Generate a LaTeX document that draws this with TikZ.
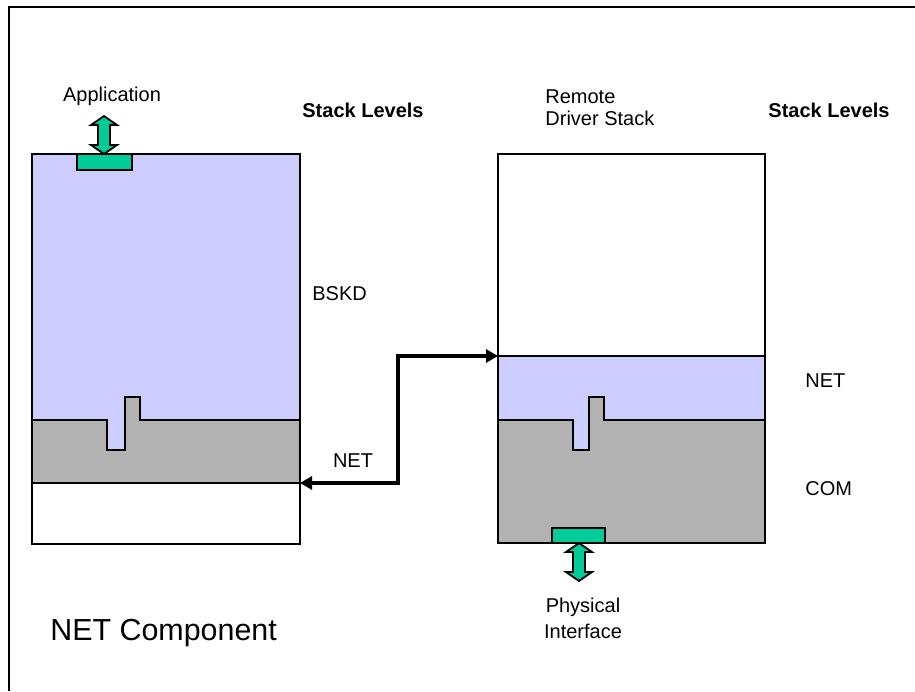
\documentclass[tikz,border=0pt]{standalone}
\usepackage{fontspec}
\setmainfont{Liberation Sans}
\usetikzlibrary{arrows.meta}
\definecolor{netblue}{HTML}{CCCCFF}
\definecolor{comgray}{HTML}{B2B2B2}
\definecolor{ifgreen}{HTML}{00CC99}
\tikzset{
  lbl/.style     ={inner sep=0pt, font=\fontsize{10}{12}\selectfont},
  lvl/.style     ={lbl, font=\fontsize{10}{12}\selectfont\bfseries},
  layer/.style   ={draw=black, line width=0.9pt},
  ifaceblk/.style={draw=black, fill=ifgreen, line width=0.9pt},
  netlink/.style ={{Triangle[length=6pt,width=6.5pt]}-{Triangle[length=6pt,width=6.5pt]}, line width=2pt},
  updown/.pic    ={\draw[ifaceblk] (0,0) -- (13,9) -- (6,9) -- (6,29) -- (13,29) -- (0,38)
                     -- (-13,29) -- (-6,29) -- (-6,9) -- (-13,9) -- cycle;},
}
\begin{document}
\begin{tikzpicture}[x=0.5pt, y=-0.5pt]
  \useasboundingbox (0,0) rectangle (915,691);
  % frame
  \draw[line width=1.4pt] (9,691) -- (9,7) -- (915,7);

  % left stack
  \fill[netblue] (32,154) rectangle (300,450);
  \draw[layer, fill=comgray] (32,420) -- (107,420) -- (107,450) -- (125,450) -- (125,397)
        -- (140,397) -- (140,420) -- (300,420) -- (300,483) -- (32,483) -- cycle;
  \draw[layer] (32,154) rectangle (300,544);
  \draw[ifaceblk] (77,154) rectangle (132,170);
  \pic at (104,116) {updown};

  % right stack
  \fill[netblue] (498,356) rectangle (765,450);
  \draw[layer, fill=comgray] (498,420) -- (573,420) -- (573,450) -- (589,450) -- (589,397)
        -- (604,397) -- (604,420) -- (765,420) -- (765,543) -- (498,543) -- cycle;
  \draw[layer] (498,154) rectangle (765,543);
  \draw[layer] (498,356) -- (765,356);
  \draw[ifaceblk] (552,528) rectangle (605,543);
  \pic at (579,543) {updown};

  % labels
  \node[lbl] (app) at (112,96) {Application};
  \node[lvl] (lvlL) at (363,110) {Stack Levels};
  \node[lvl] (lvlR) at (829,110) {Stack Levels};
  \node[lbl, align=left, anchor=north west, font=\fontsize{10}{11}\selectfont] (remote) at (545,89) {Remote\\Driver Stack};
  \node[lbl, anchor=west] (bskd) at (312,294) {BSKD};
  \node[lbl, anchor=west] (netR) at (805,381) {NET};
  \node[lbl, anchor=west] (comR) at (805,489) {COM};
  \node[lbl] (netL) at (353,461) {NET};
  \node[lbl, align=center, anchor=north, font=\fontsize{10}{13}\selectfont] (phys) at (583,598) {Physical\\Interface};
  \node[lbl, anchor=west, font=\fontsize{15.2}{18}\selectfont] (title) at (50,633) {NET Component};

  % NET link
  \coordinate (lnet) at (300,483);
  \coordinate (rnet) at (498,356);
  \coordinate (bend) at (398,420);
  \draw[netlink] (lnet) -| (bend) |- (rnet);
\end{tikzpicture}
\end{document}
